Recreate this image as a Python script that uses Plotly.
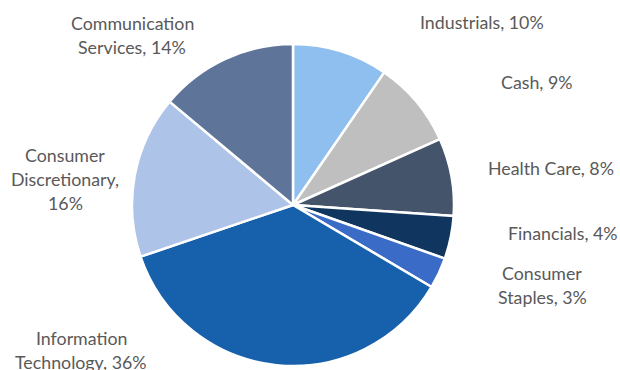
import plotly.graph_objects as go

sectors = ["Industrials", "Cash", "Health Care", "Financials", "Consumer Staples",
           "Information Technology", "Consumer Discretionary", "Communication Services"]
weights = [9.6, 8.7, 7.8, 4.3, 3.1, 36.3, 16.3, 13.9]
colors = ["#8FBFEF", "#BFBFBF", "#44546A", "#10365F", "#3A6BC6",
          "#1660AC", "#AEC3E8", "#5E7499"]
# how each label wraps (the percent is appended to the last piece)
label_lines = [["Industrials, "], ["Cash, "], ["Health Care, "], ["Financials, "],
               ["Consumer", "Staples, "], ["Information", "Technology, "],
               ["Consumer", "Discretionary,", ""], ["Communication", "Services, "]]
# label layout: center x and first-line center y in pixels (from top-left)
label_pos = [(482, 22), (537, 82), (551, 168), (563, 233), (542, 273),
             (81, 338), (65, 155), (132, 23)]
LINE_STEP = 24

W, H = 620, 370
total = sum(weights)
fig = go.Figure(go.Pie(
    labels=sectors, values=weights, sort=False, direction="clockwise", rotation=0,
    marker=dict(colors=colors, line=dict(color="white", width=2.5)),
    textinfo="none", hoverinfo="label+percent",
    domain=dict(x=[(293 - 161) / W, (293 + 161) / W], y=[(H - 366) / H, (H - 44) / H]),
    showlegend=False,
))
for lines, v, (px, py) in zip(label_lines, weights, label_pos):
    pct = f"{round(100 * v / total):d}%"
    texts = lines[:-1] + [lines[-1] + pct]
    for i, t in enumerate(texts):
        fig.add_annotation(x=px / W, y=1 - (py + i * LINE_STEP) / H,
                           xref="paper", yref="paper", text=t,
                           showarrow=False, xanchor="center", yanchor="middle",
                           font=dict(family="Lato", size=17.8, color="#595959"))
fig.update_layout(width=W, height=H, margin=dict(l=0, r=0, t=0, b=0),
                  paper_bgcolor="white", plot_bgcolor="white")
fig.write_html("out.html")
